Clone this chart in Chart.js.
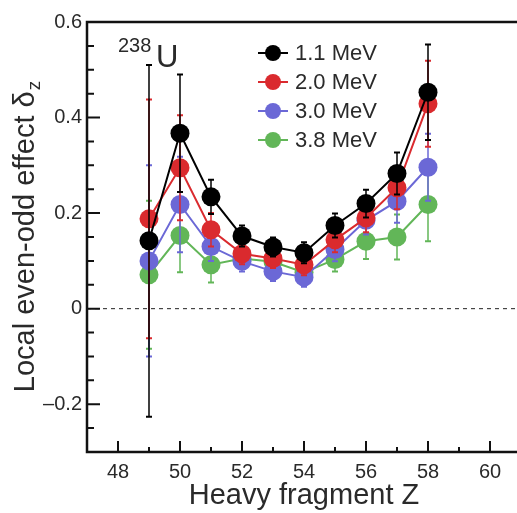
<!DOCTYPE html>
<html lang="en">
<head>
<meta charset="UTF-8">
<title>Local even-odd effect vs heavy fragment Z</title>
<script src="https://cdn.jsdelivr.net/npm/chart.js@4"></script>
<style>
  html, body { margin: 0; padding: 0; background: #fff; overflow: hidden; }
  #wrap { width: 521px; height: 513px; }
</style>
</head>
<body>
<div id="wrap"><canvas id="chart" width="521" height="513"></canvas></div>
<script>
const charge = [49, 50, 51, 52, 53, 54, 55, 56, 57, 58]
const energies = ['1.1 MeV', '2.0 MeV', '3.0 MeV', '3.8 MeV']
const colors = ['#000000', '#da2a2e', '#6b68d6', '#62b658']

const delta11 = [0.142, 0.367, 0.234, 0.152, 0.129, 0.117, 0.174, 0.220, 0.283, 0.453]
const err11 = [0.368, 0.123, 0.036, 0.022, 0.020, 0.022, 0.025, 0.029, 0.044, 0.100]
const delta20 = [0.188, 0.295, 0.165, 0.115, 0.105, 0.092, 0.144, 0.190, 0.253, 0.429]
const err20 = [0.250, 0.110, 0.035, 0.022, 0.020, 0.022, 0.026, 0.030, 0.045, 0.090]
const delta30 = [0.100, 0.218, 0.130, 0.099, 0.078, 0.066, 0.124, 0.185, 0.225, 0.296]
const err30 = [0.200, 0.100, 0.030, 0.021, 0.020, 0.020, 0.025, 0.030, 0.045, 0.070]
const delta38 = [0.071, 0.153, 0.092, 0.105, 0.098, 0.076, 0.103, 0.141, 0.150, 0.218]
const err38 = [0.155, 0.077, 0.037, 0.022, 0.020, 0.022, 0.025, 0.037, 0.047, 0.077]

const xTicks = [47, 48, 49, 50, 51, 52, 53, 54, 55, 56, 57, 58, 59, 60, 61]
const xLabelTicks = [48, 50, 52, 54, 56, 58, 60]
const yTicks = [-0.3, -0.25, -0.2, -0.15, -0.1, -0.05, 0, 0.05, 0.1, 0.15, 0.2, 0.25, 0.3, 0.35, 0.4, 0.45, 0.5, 0.55, 0.6]
const yLabelTicks = [-0.2, 0, 0.2, 0.4, 0.6]
const yLabelText = ['\u20130.2', '0', '0.2', '0.4', '0.6']

const FONT = '"Liberation Sans", Arial, Helvetica, sans-serif'
const TEXT = '#2a2a2a'
const AXIS = '#111111'

const series = [delta11, delta20, delta30, delta38]
const errors = [err11, err20, err30, err38]

const datasets = series.map((vals, i) => ({
  label: energies[i],
  data: charge.map((z, j) => ({ x: z, y: vals[j] })),
  errors: errors[i],
  borderColor: colors[i],
  backgroundColor: colors[i],
  pointBackgroundColor: colors[i],
  pointBorderColor: colors[i],
  pointBorderWidth: 0,
  pointRadius: 9.5,
  pointHoverRadius: 9.5,
  borderWidth: 2,
  tension: 0,
  showLine: true
}))

const yLabelIndex = v => yLabelTicks.findIndex(t => Math.abs(t - v) < 1e-9)

// error bars drawn just under each dataset, so that its own markers sit on top
const errorBars = {
  id: 'errorBars',
  beforeDatasetDraw(chart, args) {
    const { ctx, scales: { x, y } } = chart
    const ds = chart.data.datasets[args.index]
    ctx.save()
    ctx.strokeStyle = ds.borderColor
    ds.data.forEach((p, j) => {
      const px = x.getPixelForValue(p.x)
      const top = y.getPixelForValue(p.y + ds.errors[j])
      const bot = y.getPixelForValue(p.y - ds.errors[j])
      ctx.lineWidth = 1.5
      ctx.beginPath()
      ctx.moveTo(px, top)
      ctx.lineTo(px, bot)
      ctx.stroke()
      ctx.lineWidth = 2
      ctx.beginPath()
      ctx.moveTo(px - 3, top)
      ctx.lineTo(px + 3, top)
      ctx.moveTo(px - 3, bot)
      ctx.lineTo(px + 3, bot)
      ctx.stroke()
    })
    ctx.restore()
  }
}

const frame = {
  id: 'frame',
  beforeDatasetsDraw(chart) {
    const { ctx, chartArea: a, scales: { y } } = chart
    const y0 = y.getPixelForValue(0)
    ctx.save()
    ctx.strokeStyle = '#222'
    ctx.lineWidth = 1
    ctx.setLineDash([4, 4])
    ctx.beginPath()
    ctx.moveTo(a.left, y0)
    ctx.lineTo(a.right, y0)
    ctx.stroke()
    ctx.restore()
  },
  afterDraw(chart) {
    const { ctx, chartArea: a, scales: { x, y } } = chart
    ctx.save()
    ctx.strokeStyle = AXIS
    // ticks pointing into the plot
    ctx.lineWidth = 2
    ctx.beginPath()
    for (const v of yTicks) {
      const py = y.getPixelForValue(v)
      const len = yLabelIndex(v) >= 0 ? 13 : 7
      ctx.moveTo(a.left, py)
      ctx.lineTo(a.left + len, py)
    }
    for (const v of xTicks) {
      const px = x.getPixelForValue(v)
      const len = xLabelTicks.includes(v) ? 11 : 5
      ctx.moveTo(px, a.bottom)
      ctx.lineTo(px, a.bottom - len)
    }
    ctx.stroke()
    // box: left, bottom, top (right edge is cut off)
    ctx.lineWidth = 2.5
    ctx.beginPath()
    ctx.moveTo(a.right, a.top)
    ctx.lineTo(a.left, a.top)
    ctx.lineTo(a.left, a.bottom)
    ctx.lineTo(a.right, a.bottom)
    ctx.stroke()

    // y title with subscript
    const main = 'Local even-odd effect \u03b4'
    ctx.fillStyle = TEXT
    ctx.font = '29px ' + FONT
    const wMain = ctx.measureText(main).width
    ctx.font = '19px ' + FONT
    const wSub = ctx.measureText('z').width
    const cy = (a.top + a.bottom) / 2
    ctx.translate(34, cy)
    ctx.rotate(-Math.PI / 2)
    ctx.textBaseline = 'alphabetic'
    ctx.textAlign = 'left'
    const start = -(wMain + wSub) / 2
    ctx.font = '29px ' + FONT
    ctx.fillText(main, start, 0)
    ctx.font = '19px ' + FONT
    ctx.fillText('z', start + wMain + 1, 6)
    ctx.restore()

    // 238U label
    ctx.save()
    ctx.fillStyle = TEXT
    ctx.textBaseline = 'alphabetic'
    ctx.textAlign = 'left'
    ctx.font = '20px ' + FONT
    ctx.fillText('238', 118, 52)
    ctx.font = '31px ' + FONT
    ctx.fillText('U', 156, 67)

    // legend
    const legendY = [53, 82, 111, 140]
    chart.data.datasets.forEach((ds, i) => {
      const ly = legendY[i]
      ctx.strokeStyle = ds.borderColor
      ctx.lineWidth = 2
      ctx.beginPath()
      ctx.moveTo(258, ly)
      ctx.lineTo(288, ly)
      ctx.stroke()
      ctx.fillStyle = ds.backgroundColor
      ctx.beginPath()
      ctx.arc(273, ly, 8, 0, Math.PI * 2)
      ctx.fill()
      ctx.fillStyle = TEXT
      ctx.font = '22px ' + FONT
      ctx.textBaseline = 'middle'
      ctx.fillText(ds.label, 295, ly + 1)
    })
    ctx.restore()
  }
}

new Chart(document.getElementById('chart'), {
  type: 'line',
  data: { datasets },
  options: {
    responsive: false,
    animation: false,
    devicePixelRatio: 1,
    layout: { autoPadding: false, padding: { top: 22, right: 0, bottom: 0, left: 0 } },
    plugins: {
      legend: { display: false },
      tooltip: { enabled: false }
    },
    scales: {
      x: {
        type: 'linear',
        min: 47,
        max: 61,
        afterBuildTicks: s => { s.ticks = xTicks.map(value => ({ value })) },
        afterFit: s => { s.height = 61; s.paddingLeft = 0; s.paddingRight = 0 },
        grid: { display: false, drawTicks: false },
        border: { display: false },
        ticks: {
          autoSkip: false,
          maxRotation: 0,
          padding: 8,
          color: TEXT,
          font: { family: FONT, size: 20 },
          callback: v => xLabelTicks.includes(v) ? String(v) : ''
        },
        title: {
          display: true,
          text: 'Heavy fragment Z',
          color: TEXT,
          font: { family: FONT, size: 29 },
          padding: { top: 0, bottom: 0 }
        }
      },
      y: {
        type: 'linear',
        min: -0.3,
        max: 0.6,
        afterBuildTicks: s => { s.ticks = yTicks.map(value => ({ value })) },
        afterFit: s => { s.width = 87 },
        grid: { display: false, drawTicks: false },
        border: { display: false },
        ticks: {
          autoSkip: false,
          padding: 5,
          color: TEXT,
          font: { family: FONT, size: 20 },
          callback: v => {
            const k = yLabelIndex(v)
            return k >= 0 ? yLabelText[k] : ''
          }
        }
      }
    }
  },
  plugins: [errorBars, frame]
})
</script>
</body>
</html>
